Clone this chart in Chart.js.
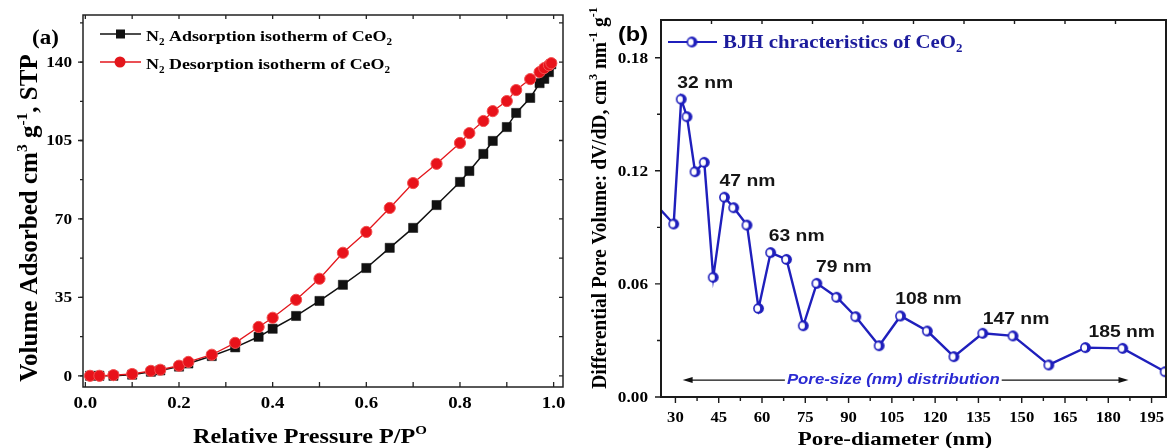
<!DOCTYPE html>
<html>
<head>
<meta charset="utf-8">
<script src="https://cdn.jsdelivr.net/npm/chart.js@4.4.0/dist/chart.umd.min.js"></script>
<style>
  html, body { margin: 0; padding: 0; background: #fff; }
  #wrap { position: relative; width: 1167px; height: 448px; overflow: hidden; }
  #isotherm { position: absolute; left: 0; top: 0; }
  #bjh { position: absolute; left: 580px; top: 0; }
</style>
</head>
<body>
<div id="wrap">
  <canvas id="isotherm" width="580" height="448"></canvas>
  <canvas id="bjh" width="587" height="448"></canvas>
</div>
<script>
// ---- (a) N2 adsorption / desorption isotherms of CeO2 ----
const relativePressure = [0.01, 0.03, 0.06, 0.10, 0.14, 0.16, 0.20, 0.22, 0.27, 0.32, 0.37, 0.40, 0.45, 0.50, 0.55,
                          0.60, 0.65, 0.70, 0.75, 0.80, 0.82, 0.85, 0.87, 0.90, 0.92, 0.95, 0.97, 0.98, 0.99, 0.995];
const adsorptionVolume = [0, 0, 0, 0.5, 1.8, 2.4, 4.1, 5.5, 8.8, 12.7, 17.4, 21, 26.7, 33.4, 40.6,
                          48.1, 57.1, 66, 76.2, 86.5, 91.4, 99, 104.8, 111, 117.3, 124, 130.6, 132.5, 135.5, 139];
const desorptionVolume = [0, 0, 0.3, 0.8, 2.2, 2.7, 4.5, 6.2, 9.4, 14.7, 21.8, 25.9, 33.9, 43.3, 54.9,
                          64.2, 74.9, 86, 94.6, 103.9, 108.3, 113.7, 118.1, 122.6, 127.5, 132.4, 135.5, 137.3, 138.6, 139.5];
const pressureTicks = [0, 0.2, 0.4, 0.6, 0.8, 1.0];
const volumeTicks = [0, 35, 70, 105, 140];
const isothermLegend = ['N_{2} Adsorption isotherm of CeO_{2}', 'N_{2} Desorption isotherm of CeO_{2}'];

// ---- (b) BJH pore-size distribution ----
const poreDiameter = [22, 29.4, 32, 34, 36.8, 40, 43.1, 47, 50.2, 54.8, 58.8, 63, 68.5, 74.3, 79,
                      85.9, 92.5, 100.6, 108, 117.3, 126.5, 136.5, 147, 159.4, 172.1, 185, 199.7];
const poreVolume = [0.104, 0.0918, 0.158, 0.1487, 0.1195, 0.1245, 0.0635, 0.106, 0.1004, 0.0912, 0.047, 0.0766, 0.073, 0.0378, 0.0603,
                    0.0529, 0.0426, 0.0272, 0.043, 0.035, 0.0214, 0.0338, 0.0324, 0.017, 0.0262, 0.0258, 0.0134];
const peakDiameters = [32, 47, 63, 79, 108, 147, 185];
const diameterTicks = [30, 45, 60, 75, 90, 105, 120, 135, 150, 165, 180, 195];
const poreVolumeTicks = [0, 0.06, 0.12, 0.18];
const bjhLegend = 'BJH chracteristics of CeO_{2}';

const SERIF = '"Liberation Serif", "Times New Roman", serif';
const SANS = '"Liberation Sans", Arial, sans-serif';

// split "CeO_{2}" / "cm^{3}" into runs of normal, sub- and superscript text
function runs(s) {
  const out = [], re = /([_^])\{([^}]*)\}/g;
  let last = 0, m;
  while ((m = re.exec(s))) {
    if (m.index > last) out.push({ t: s.slice(last, m.index) });
    out.push({ t: m[2], sub: m[1] === '_', sup: m[1] === '^' });
    last = re.lastIndex;
  }
  if (last < s.length) out.push({ t: s.slice(last) });
  return out;
}

function drawText(ctx, s, x, y, o) {
  const parts = runs(s);
  const font = sz => `${o.style || 'normal'} ${o.weight || 'bold'} ${sz}px ${o.family || SERIF}`;
  const sizeOf = p => (p.sub || p.sup) ? o.size * 0.62 : o.size;
  ctx.save();
  ctx.translate(x, y);
  if (o.rotate) ctx.rotate(o.rotate);
  ctx.scale(o.sx || 1, o.sy || 1);
  let w = 0;
  for (const p of parts) { ctx.font = font(sizeOf(p)); w += ctx.measureText(p.t).width; }
  let cx = o.align === 'center' ? -w / 2 : o.align === 'right' ? -w : 0;
  ctx.fillStyle = o.color || '#000';
  ctx.textBaseline = o.baseline || 'alphabetic';
  for (const p of parts) {
    ctx.font = font(sizeOf(p));
    const dy = p.sub ? o.size * 0.24 : p.sup ? -o.size * 0.42 : 0;
    ctx.fillText(p.t, cx, dy);
    cx += ctx.measureText(p.t).width;
  }
  ctx.restore();
  return w * (o.sx || 1);
}

// short tick strokes along an axis
function xTicks(ctx, xs, y0, len) {
  ctx.beginPath();
  xs.forEach(px => { ctx.moveTo(px, y0); ctx.lineTo(px, y0 + len); });
  ctx.stroke();
}
function yTicks(ctx, ys, x0, len) {
  ctx.beginPath();
  ys.forEach(py => { ctx.moveTo(x0, py); ctx.lineTo(x0 + len, py); });
  ctx.stroke();
}
function steps(from, to, step) {
  const v = [];
  for (let k = 0; from + k * step <= to + 1e-9; k++) v.push(+(from + k * step).toFixed(6));
  return v;
}

// ---------- panel (a) decorations ----------
const isothermFrame = {
  id: 'isothermFrame',
  afterDraw(chart) {
    const { ctx, chartArea: a, scales: { x, y } } = chart;
    ctx.save();
    ctx.strokeStyle = '#222';
    ctx.lineWidth = 1.5;
    ctx.strokeRect(a.left, a.top, a.right - a.left, a.bottom - a.top);
    ctx.lineWidth = 1.3;
    const yMinor = steps(0, 157.5, 17.5).map(v => y.getPixelForValue(v));
    const yMajor = volumeTicks.map(v => y.getPixelForValue(v));
    const xAll = steps(0, 1, 0.1).map(v => x.getPixelForValue(v));
    yTicks(ctx, yMajor, a.left, -5);
    yTicks(ctx, yMinor, a.left, -3);
    yTicks(ctx, yMinor, a.right, -4);
    xTicks(ctx, xAll, a.bottom, -5);
    xTicks(ctx, xAll, a.top, 4);

    volumeTicks.forEach(v => drawText(ctx, String(v), 72, y.getPixelForValue(v) + 1,
      { size: 15, sx: 1.15, align: 'right', baseline: 'middle' }));
    pressureTicks.forEach(v => drawText(ctx, v.toFixed(1), x.getPixelForValue(v), 404,
      { size: 16, sx: 1.18, align: 'center', baseline: 'middle' }));

    drawText(ctx, 'Relative Pressure P/P^{O}', 310, 443, { size: 20.5, sx: 1.18, align: 'center' });
    drawText(ctx, 'Volume Adsorbed cm^{3} g^{-1}, STP', 37, 218,
      { size: 25, sy: 1.0, align: 'center', rotate: -Math.PI / 2 });
    drawText(ctx, '(a)', 32, 44, { size: 20, sx: 1.15 });

    // legend
    const rows = [
      { y: 34, color: '#111', style: 'rect' },
      { y: 62, color: '#e3161c', style: 'circle' }
    ];
    rows.forEach((r, i) => {
      ctx.strokeStyle = r.color;
      ctx.lineWidth = 1.5;
      ctx.beginPath(); ctx.moveTo(100, r.y); ctx.lineTo(141, r.y); ctx.stroke();
      ctx.fillStyle = r.color;
      if (r.style === 'rect') ctx.fillRect(116, r.y - 4.5, 9, 9);
      else { ctx.beginPath(); ctx.arc(120, r.y, 5.5, 0, Math.PI * 2); ctx.fill(); }
      drawText(ctx, isothermLegend[i], 146, r.y + 7, { size: 15.2, sx: 1.18 });
    });
    ctx.restore();
  }
};

new Chart(document.getElementById('isotherm'), {
  type: 'line',
  data: {
    datasets: [
      {
        label: 'Adsorption',
        data: relativePressure.map((p, i) => ({ x: p, y: adsorptionVolume[i] })),
        borderColor: '#111', borderWidth: 1.5,
        pointStyle: 'rect', pointRadius: 6.5,
        pointBackgroundColor: '#111', pointBorderColor: '#111', pointBorderWidth: 0.5,
        order: 1
      },
      {
        label: 'Desorption',
        data: relativePressure.map((p, i) => ({ x: p, y: desorptionVolume[i] })),
        borderColor: '#e3161c', borderWidth: 1.3,
        pointStyle: 'circle', pointRadius: 5.6,
        pointBackgroundColor: '#e8121a', pointBorderColor: '#f25050', pointBorderWidth: 1,
        order: 0
      }
    ]
  },
  options: {
    responsive: false, animation: false, events: [],
    layout: { autoPadding: false, padding: { left: 83, right: 17, top: 15, bottom: 61 } },
    scales: {
      x: { type: 'linear', display: false, min: -0.005, max: 1.02 },
      y: { type: 'linear', display: false, min: -5, max: 161 }
    },
    plugins: { legend: { display: false }, tooltip: { enabled: false } }
  },
  plugins: [isothermFrame]
});

// ---------- panel (b) ----------
const BLUE = '#1f1fbc';
function ringMarker(r) {
  const c = document.createElement('canvas');
  const s = Math.ceil(r * 2 + 4);
  c.width = c.height = s;
  const g = c.getContext('2d');
  const m = s / 2;
  g.beginPath(); g.arc(m, m, r, 0, Math.PI * 2); g.fillStyle = BLUE; g.fill();
  g.beginPath(); g.ellipse(m - 1.1, m, r * 0.5, r * 0.62, 0, 0, Math.PI * 2); g.fillStyle = '#fff'; g.fill();
  return c;
}
const marker = ringMarker(5.4);

const peakLabelShift = [24, 23, 26, 27, 28, 3, -1];

const bjhFrame = {
  id: 'bjhFrame',
  afterDraw(chart) {
    const { ctx, chartArea: a, scales: { x, y } } = chart;
    ctx.save();
    ctx.strokeStyle = '#1a1a1a';
    ctx.lineWidth = 2;
    ctx.strokeRect(a.left, a.top, a.right - a.left, a.bottom - a.top);
    ctx.lineWidth = 1.4;
    const xMajor = diameterTicks.map(v => x.getPixelForValue(v));
    const xMinor = steps(37.5, 195, 15).map(v => x.getPixelForValue(v));
    const yMajor = poreVolumeTicks.map(v => y.getPixelForValue(v));
    const yMinor = steps(0.03, 0.15, 0.06).map(v => y.getPixelForValue(v));
    xTicks(ctx, xMajor, a.bottom, 6);
    xTicks(ctx, xMinor, a.bottom, 4);
    yTicks(ctx, yMajor, a.left, -6);
    yTicks(ctx, yMinor, a.left, -4);
    xTicks(ctx, steps(42.5, 195, 17.5).map(v => x.getPixelForValue(v)), a.top, 4);

    poreVolumeTicks.forEach(v => drawText(ctx, v.toFixed(2), 648 - 580, y.getPixelForValue(v) + 1,
      { size: 15, sx: 1.15, align: 'right', baseline: 'middle' }));
    diameterTicks.forEach(v => drawText(ctx, String(v), x.getPixelForValue(v), 418,
      { size: 14.5, sx: 1.15, align: 'center', baseline: 'middle' }));

    drawText(ctx, 'Pore-diameter (nm)', 895 - 580, 445, { size: 19.5, sx: 1.18, align: 'center' });
    drawText(ctx, 'Differential Pore Volume: dV/dD, cm^{3} nm^{-1} g^{-1}', 606 - 580, 198,
      { size: 19.5, sy: 1.05, align: 'center', rotate: -Math.PI / 2 });
    drawText(ctx, '(b)', 618 - 580, 41, { size: 21, sx: 1.12, family: SANS });

    // legend
    ctx.strokeStyle = BLUE; ctx.lineWidth = 2.2;
    ctx.beginPath(); ctx.moveTo(668 - 580, 42); ctx.lineTo(717 - 580, 42); ctx.stroke();
    ctx.drawImage(marker, 692 - 580 - marker.width / 2, 42 - marker.height / 2);
    drawText(ctx, bjhLegend, 723 - 580, 48, { size: 18.6, sx: 1.12, color: '#1c1c9c' });

    // peak labels
    peakDiameters.forEach((d, i) => {
      const v = poreVolume[poreDiameter.indexOf(d)];
      drawText(ctx, `${d} nm`, x.getPixelForValue(d) + peakLabelShift[i], y.getPixelForValue(v) - 16,
        { size: 16.5, sx: 1.17, family: SANS, align: 'center', baseline: 'middle', color: '#151515' });
    });

    // distribution arrow
    const ay = y.getPixelForValue(0.009);
    const tx = x.getPixelForValue(105.5);
    const tw = drawText(ctx, 'Pore-size (nm) distribution', tx, ay,
      { size: 14, sx: 1.2, family: SANS, style: 'italic', align: 'center', baseline: 'middle', color: '#2a2ad2' });
    const xl = x.getPixelForValue(32.5), xr = x.getPixelForValue(187);
    ctx.strokeStyle = '#111'; ctx.fillStyle = '#111'; ctx.lineWidth = 1.3;
    ctx.beginPath();
    ctx.moveTo(xl + 6, ay); ctx.lineTo(tx - tw / 2 - 2, ay);
    ctx.moveTo(tx + tw / 2 + 2, ay); ctx.lineTo(xr - 6, ay);
    ctx.stroke();
    ctx.beginPath(); ctx.moveTo(xl, ay); ctx.lineTo(xl + 10, ay - 3); ctx.lineTo(xl + 10, ay + 3); ctx.closePath(); ctx.fill();
    ctx.beginPath(); ctx.moveTo(xr, ay); ctx.lineTo(xr - 10, ay - 3); ctx.lineTo(xr - 10, ay + 3); ctx.closePath(); ctx.fill();
    ctx.restore();
  }
};

new Chart(document.getElementById('bjh'), {
  type: 'line',
  data: {
    datasets: [{
      label: 'BJH',
      data: poreDiameter.map((d, i) => ({ x: d, y: poreVolume[i] })),
      borderColor: BLUE, borderWidth: 2.4,
      pointStyle: marker, pointRadius: 5
    }]
  },
  options: {
    responsive: false, animation: false, events: [],
    layout: { autoPadding: false, padding: { left: 81, right: 1, top: 20, bottom: 51 } },
    scales: {
      x: { type: 'linear', display: false, min: 25, max: 200 },
      y: { type: 'linear', display: false, min: 0, max: 0.2 }
    },
    plugins: { legend: { display: false }, tooltip: { enabled: false } }
  },
  plugins: [bjhFrame]
});
</script>
</body>
</html>
